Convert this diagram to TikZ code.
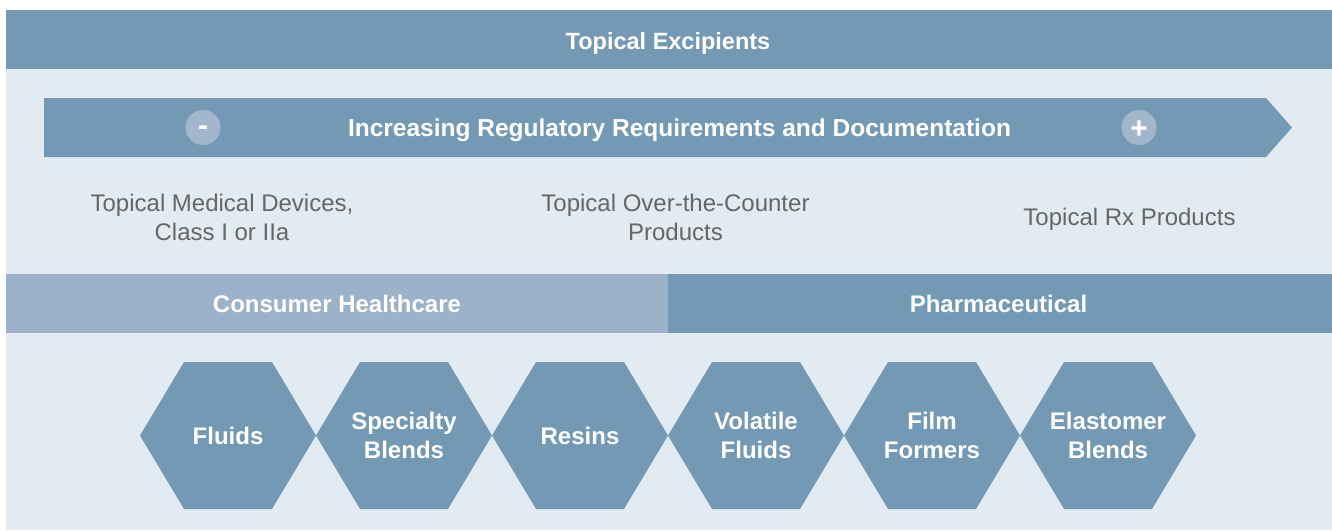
\documentclass[tikz,border=0pt]{standalone}
\usepackage{fontspec}
\setmainfont{Liberation Sans}
\definecolor{bgc}{HTML}{E2EBF1}
\definecolor{darkc}{HTML}{7499B5}
\definecolor{lightc}{HTML}{9CB2C9}
\definecolor{circc}{HTML}{A3B7CC}
\definecolor{grayt}{HTML}{666666}
\begin{document}
\begin{tikzpicture}[x=1pt,y=-1pt,
  title/.style={text=white,font=\fontsize{24}{29}\selectfont\bfseries,inner sep=0pt,align=center},
  body/.style={text=grayt,font=\fontsize{24}{29}\selectfont,inner sep=0pt,align=center},
  signc/.style={circle,fill=circc,minimum size=35pt,inner sep=0pt,text=white,font=\fontsize{30}{30}\selectfont\bfseries},
  hexlabel/.style={text=white,font=\fontsize{24}{29}\selectfont\bfseries,inner sep=0pt,align=center}]
\useasboundingbox (0,0) rectangle (1332,530);
\fill[white] (0,0) rectangle (1332,530);
\fill[bgc] (6,69) rectangle (1332,530);
% top bar
\fill[darkc] (6,10) rectangle (1332,69);
\node[title,font=\fontsize{23.5}{29}\selectfont\bfseries] (top) at (668,43.5) {Topical Excipients};
% arrow
\fill[darkc] (44,98) -- (1266,98) -- (1292,127.5) -- (1266,157) -- (44,157) -- cycle;
\node[signc] (minus) at (203,127.5) {\raisebox{-8pt}[0pt][0pt]{-}};
\node[signc] (plus) at (1139,127.5) {\raisebox{-10.5pt}[0pt][0pt]{+}};
\node[title,font=\fontsize{24.5}{29}\selectfont\bfseries] (arrowtxt) at (679.5,130) {Increasing Regulatory Requirements and Documentation};
% category texts
\node[body] (dev) at (222,217) {Topical Medical Devices,\\Class I or IIa};
\node[body] (otc) at (675.5,217) {Topical Over-the-Counter\\Products};
\node[body] (rx) at (1129.5,219.5) {Topical Rx Products};
% bands
\fill[lightc] (6,274) rectangle (668,333);
\fill[darkc] (668,274) rectangle (1332,333);
\node[title] (cons) at (337,304) {Consumer Healthcare};
\node[title] (pharm) at (998.5,304) {Pharmaceutical};
% hexagons
\foreach \i/\lab/\nm in {0/{Fluids}/h1,1/{Specialty\\Blends}/h2,2/{Resins}/h3,3/{Volatile\\Fluids}/h4,4/{Film\\Formers}/h5,5/{Elastomer\\Blends}/h6}{
  \pgfmathsetmacro{\cx}{228+176*\i}
  \fill[darkc] (\cx-88,435.5) -- (\cx-44,362) -- (\cx+44,362) -- (\cx+88,435.5) -- (\cx+44,509) -- (\cx-44,509) -- cycle;
  \node[hexlabel] (\nm) at (\cx,435.5) {\lab};
}
\end{tikzpicture}
\end{document}
